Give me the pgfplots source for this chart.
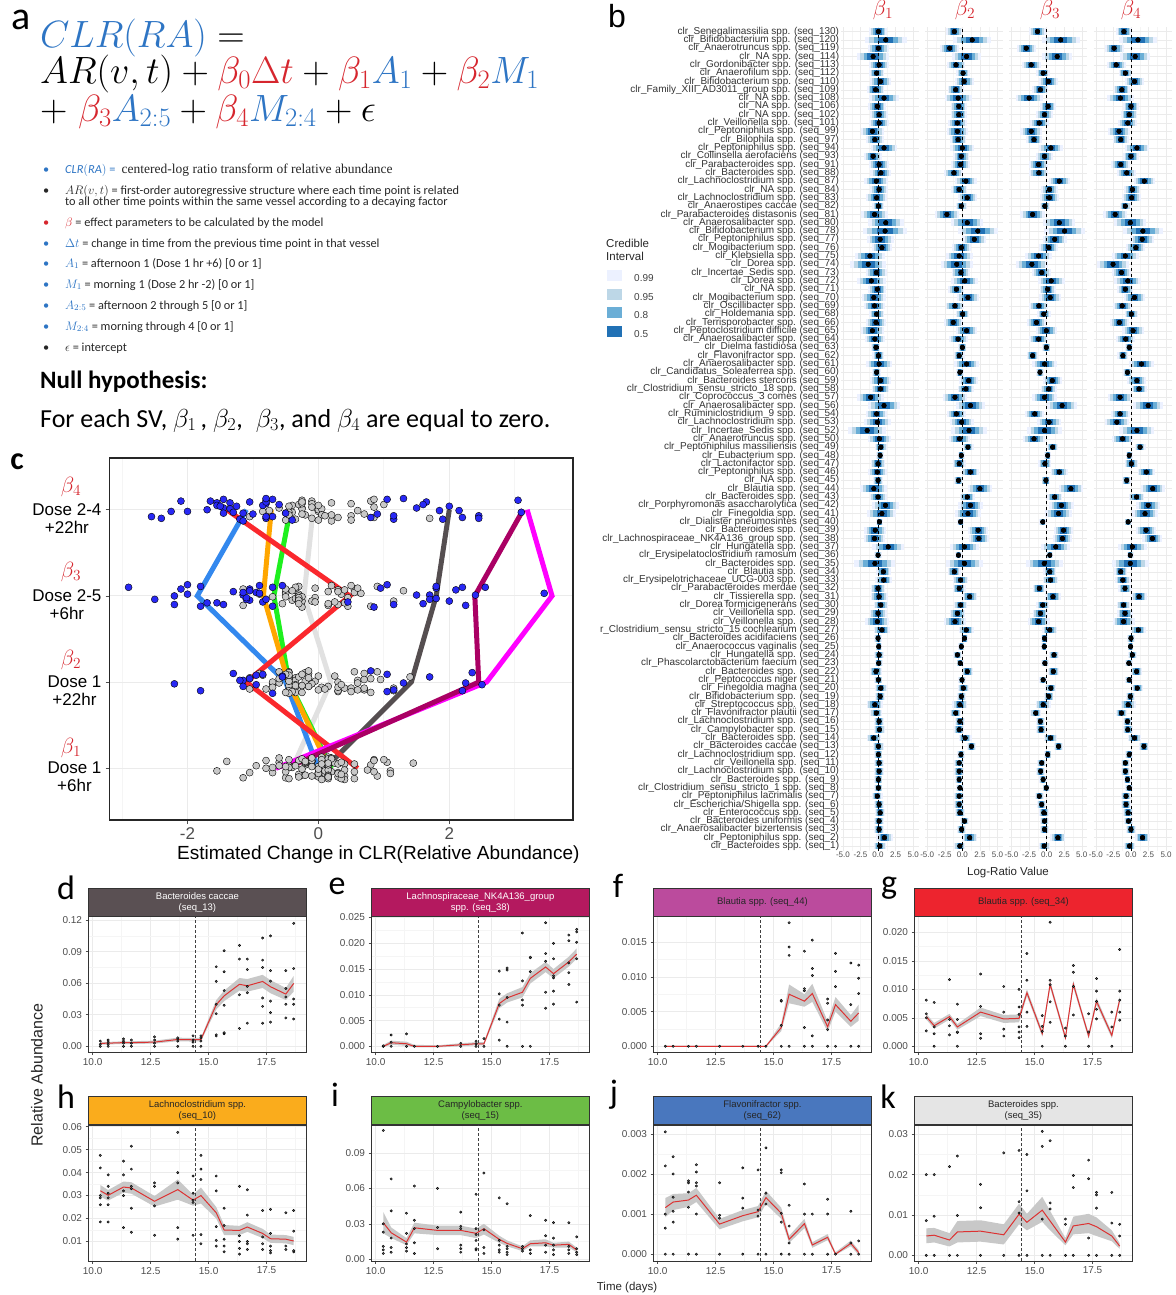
\RequirePackage{fix-cm}
\documentclass[border=0pt]{standalone}
\usepackage{fontspec}
\setmainfont{Carlito}
\newfontfamily\arial{Liberation Sans}
\newfontfamily\serif{Liberation Serif}
\usepackage{pgfplots}
\pgfplotsset{compat=1.18}
\usepackage{pgfplotstable}

\definecolor{eqblue}{RGB}{46,117,196}
\definecolor{eqred}{RGB}{214,38,46}
\definecolor{c99}{RGB}{236,241,255}
\definecolor{c95}{RGB}{189,215,231}
\definecolor{c80}{RGB}{107,174,214}
\definecolor{c50}{RGB}{33,113,181}
\definecolor{sd}{RGB}{90,80,83}
\definecolor{se}{RGB}{180,25,95}
\definecolor{sf}{RGB}{187,75,157}
\definecolor{sg}{RGB}{237,36,46}
\definecolor{sh}{RGB}{250,172,28}
\definecolor{si}{RGB}{108,189,69}
\definecolor{sj}{RGB}{73,119,190}
\definecolor{sk}{RGB}{229,229,229}
\definecolor{cred}{RGB}{250,40,45}
\definecolor{cblue}{RGB}{51,136,238}
\definecolor{corange}{RGB}{255,166,0}
\definecolor{cgreen}{RGB}{30,240,30}
\definecolor{cdark}{RGB}{85,78,80}
\definecolor{clight}{RGB}{225,225,225}
\definecolor{cmag}{RGB}{255,0,255}
\definecolor{cdmag}{RGB}{170,0,100}
\definecolor{ptblue}{RGB}{40,40,245}
\definecolor{ptgray}{RGB}{200,200,200}
\definecolor{tsred}{RGB}{220,50,50}
\definecolor{gridc}{RGB}{235,235,235}
\definecolor{gridm}{RGB}{245,245,245}
\definecolor{tickc}{RGB}{77,77,77}
\definecolor{ribc}{RGB}{200,200,200}
\definecolor{ptc}{RGB}{95,95,95}

% panel b estimates: y = row (1 = seq_1 at bottom), b1..b4 = posterior means,
% w = posterior sd (used for the grey/blue split in panel c), v = drawn interval scale, j = jitter used in panel c
\pgfplotstableread{
y b1 b2 b3 b4 w v j
1 0.25 -0.35 -0.35 -0.2 0.3 0.33 0.06
2 0.9 1.05 1.6 1.65 0.4 0.44 -0.09
3 0.15 -0.1 -0.3 0 0.25 0.28 0.02
4 0.15 0.3 -0.3 -0.35 0.25 0.28 0.11
5 0.3 -0.35 -0.4 -0.4 0.25 0.28 -0.05
6 0.15 -0.45 -0.7 -0.7 0.25 0.28 -0.12
7 -0.1 -0.45 -1.05 -0.7 0.25 0.28 0.08
8 0.05 -0.35 -0.05 -0.25 0.2 0.22 -0.02
9 0.05 -0.45 -0.5 -0.5 0.2 0.22 0.04
10 0.15 -0.45 -0.85 -0.8 0.25 0.28 -0.07
11 0.15 -0.45 -0.7 -0.8 0.25 0.28 0.10
12 0.05 -0.2 0.15 -0.25 0.2 0.22 -0.11
13 0.05 1.3 1.7 1.85 0.25 0.28 0.01
14 -0.6 0.4 0.55 0.5 0.35 0.39 0.07
15 0.2 -0.45 -0.8 -0.45 0.25 0.28 -0.04
16 0.15 -0.35 -0.9 -0.5 0.25 0.28 0.12
17 -0.25 -0.95 -1.55 -1.35 0.3 0.33 -0.08
18 -0.45 -0.35 -0.5 -0.4 0.4 0.44 0.03
19 0.3 -0.15 0.3 -0.1 0.25 0.28 -0.10
20 0.4 0.15 0.6 0.9 0.3 0.33 0.05
21 0.05 -0.05 -0.5 -0.25 0.2 0.22 -0.01
22 -0.3 0.7 0.95 0.8 0.3 0.33 0.09
23 0.1 -0.3 -0.25 -0.3 0.2 0.22 -0.06
24 0.15 -0.7 1.05 0.2 0.25 0.28 0.13
25 0.1 -0.15 -0.35 -0.05 0.15 0.17 -0.03
26 0 0.3 -0.3 0 0.2 0.22 0.00
27 0.55 0.55 0.45 1.05 0.4 0.44 -0.12
28 -0.1 -1.05 -1.15 -1.05 0.5 0.65 0.08
29 0 -0.7 -0.9 -0.85 0.35 0.46 0.02
30 0.4 -0.25 -0.55 -1.05 0.3 0.39 -0.09
31 0.15 1.05 0.9 1.15 0.35 0.46 0.11
32 0 -0.45 -1.05 -0.85 0.3 0.39 -0.05
33 0.8 -0.25 0.55 -1.15 0.35 0.46 0.04
34 0.75 -1.15 0.45 -1.45 0.3 0.39 -0.02
35 -0.45 0.3 -0.35 -0.1 0.85 1.1 0.10
36 0 -0.55 0.45 -0.1 0.15 0.2 -0.07
37 1.45 0.3 1.3 0.2 0.65 0.85 0.06
38 -0.5 2.35 2.25 3.05 0.45 0.59 -0.11
39 -0.4 2.25 2.4 2.15 0.45 0.59 0.01
40 0.2 -0.25 -0.55 -0.4 0.15 0.2 0.12
41 0.55 0.8 1.7 2.0 0.6 0.78 -0.04
42 1.05 1.15 2.1 2.45 0.55 0.72 0.07
43 0 0.7 1.15 0.8 0.35 0.46 -0.10
44 -0.6 2.5 3.45 3.1 0.55 0.72 0.03
45 0 -0.55 -0.1 -0.6 0.2 0.26 -0.06
46 -0.1 1.15 1.8 2.2 0.4 0.52 0.09
47 0 -0.45 -0.25 0.05 0.3 0.39 -0.01
48 0.3 -0.15 0.15 -0.25 0.15 0.2 0.05
49 0.4 0.8 0.85 1.3 0.25 0.33 -0.13
50 0.2 -0.4 -1.8 -1.2 0.4 0.64 0.11
51 -1.55 0.95 -0.3 0.85 0.65 1.04 -0.03
52 -0.1 -0.1 0.35 -2.0 0.45 0.72 0.02
53 -0.2 -0.85 -1.7 -1.55 0.35 0.56 -0.08
54 0.85 1.15 2.2 2.45 0.55 0.88 0.10
55 -1.05 -1.05 -0.3 -1.55 0.45 0.72 -0.05
56 0.35 0.5 0.3 1.15 0.3 0.48 0.07
57 0.35 0.9 0.8 0.85 0.35 0.56 -0.12
58 -0.2 -0.35 -0.95 -0.5 0.15 0.24 0.04
59 0.15 0.6 -0.3 1.5 0.45 0.72 -0.02
60 0.05 -0.45 -2.0 -1.15 0.2 0.32 0.13
61 -0.3 0 -0.05 -0.25 0.15 0.24 -0.07
62 -0.45 -0.6 -1.15 -0.75 0.35 0.56 0.01
63 -0.8 0.6 -0.05 0.3 0.4 0.64 0.09
64 -0.3 -1.3 -1.45 -1.65 0.35 0.56 -0.10
65 -0.2 0.05 -0.4 0.05 0.25 0.4 0.06
66 -0.5 -1.05 -1.1 -1.25 0.35 0.56 -0.04
67 -0.6 0.8 0.5 0.5 0.4 0.64 0.12
68 -0.1 -0.85 0.15 -0.8 0.3 0.48 -0.09
69 -0.95 0.35 0.65 -0.45 0.5 0.8 0.03
70 -0.25 -0.2 -0.7 -1.35 0.35 0.56 -0.01
71 -1.4 -0.8 -2.1 -2.55 0.6 0.96 0.08
72 -1.15 -0.45 -1.15 -0.8 0.5 0.8 -0.11
73 0.55 -0.15 0.3 0.7 0.35 0.56 0.05
74 0.3 1.7 1.15 1.6 0.45 0.72 -0.06
75 1.0 2.2 2.55 1.7 0.75 1.2 0.10
76 1.1 0.7 1.8 -0.1 0.6 0.96 -0.03
77 -0.5 -2.2 -2.0 -2.25 0.45 0.72 0.02
78 0.05 -0.15 -0.25 -0.8 0.2 0.32 -0.13
79 -0.2 0.7 0.4 0.1 0.35 0.56 0.07
80 0.15 -0.45 0.4 0.2 0.3 0.48 -0.08
81 -0.25 0.5 1.8 1.9 0.4 0.64 0.11
82 0.4 -1.2 -1.1 -0.6 0.35 0.56 -0.02
83 0.15 -0.25 -1.15 -1.45 0.35 0.56 0.04
84 -0.7 -0.15 -0.3 0 0.3 0.48 -0.05
85 0.85 0 0.6 0.85 0.45 0.72 0.09
86 -0.45 -0.6 -1.8 -1.45 0.3 0.48 -0.12
87 -0.8 -0.7 -2.2 -1.7 0.4 0.64 0.00
88 0.15 -0.7 -1.05 -0.45 0.35 0.56 0.06
89 0.15 -0.5 -0.3 -0.25 0.3 0.48 -0.09
90 -0.1 -0.5 0.2 0 0.3 0.48 0.12
91 0.85 -0.6 -2.5 -1.5 0.5 0.8 -0.04
92 -0.35 -0.95 -0.9 -1.3 0.3 0.48 0.03
93 0.35 0.25 0.25 0.5 0.35 0.56 -0.07
94 -0.2 0.1 -0.5 -0.8 0.25 0.4 0.08
95 0.15 -0.9 -2.2 -2.1 0.35 0.56 -0.10
96 -0.7 0.6 1.5 0.6 0.55 0.88 0.01
97 0.05 -1.8 -2.9 -2.4 0.35 0.56 0.10
98 1.1 1.4 2.0 1.0 0.7 1.12 -0.06
99 0.05 -1.15 -1.3 -1.0 0.3 0.48 0.05
}\bdata

% mean trajectories (panels d-k)
\pgfplotstableread{
t d e f g h i j k
10.33 0.0028 0 0 0.0052 0.0321 0.0310 0.00116 0.0048
10.67 0.0030 0.0007 0 0.0036 0.0301 0.0225 0.00130 0.0050
11.33 0.0035 0.0005 0 0.0052 0.0337 0.0146 0.00135 0.0038
11.67 0.0035 0 0 0.0034 0.0333 0.0267 0.00147 0.0058
12.67 0.0040 0 0 0.0060 0.0275 0.0245 0.00075 0.0060
13.67 0.0065 0.0003 0 0.0048 0.0326 0.0245 0.00096 0.0051
14.33 0.0062 0.0005 0 0.0049 0.0280 0.0220 0.00106 0.0102
14.67 0.0065 0.0005 0 0.0094 0.0300 0.0259 0.00141 0.0082
15.33 0.0396 0.0083 0.0027 0.0022 0.0225 0.0169 0.00102 0.0112
15.67 0.0480 0.0094 0.0075 0.0109 0.0150 0.0135 0.00037 0.0085
16.33 0.0590 0.0105 0.0065 0.0015 0.0148 0.0090 0.00076 0.0033
16.67 0.0576 0.0132 0.0076 0.0109 0.0163 0.0132 0.00023 0.0073
17.33 0.0617 0.0154 0.0028 0.0018 0.0135 0.0140 0.00042 0.0079
17.67 0.0567 0.0141 0.0060 0.0079 0.0112 0.0120 0.00000 0.0071
18.33 0.0497 0.0164 0.0036 0.0019 0.0110 0.0127 0.00027 0.0048
18.67 0.0598 0.0179 0.0048 0.0082 0.0102 0.0079 0.00004 0.0023
}\mtab

\pgfplotsset{
  bfac/.style={width=78bp, height=824.4bp, scale only axis, anchor=south west,
    xmin=-5.3, xmax=5.8, ymin=0.4, ymax=99.6,
    xtick={-5,-2.5,0,2.5,5}, minor xtick={-3.75,-1.25,1.25,3.75},
    ytick={1,...,99},
    xmajorgrids, xminorgrids, ymajorgrids,
    major grid style={draw=gridc, line width=0.5bp},
    minor grid style={draw=gridm, line width=0.4bp},
    axis line style={draw=none}, major tick length=0pt, minor tick length=0pt,
    /pgf/number format/assume math mode=true,
    xticklabel style={font=\arial\fontsize{8bp}{9bp}\selectfont, text=tickc, inner sep=1bp, /pgf/number format/fixed, /pgf/number format/fixed zerofill, /pgf/number format/precision=1},
    yticklabel style={font=\arial\fontsize{10bp}{10bp}\selectfont, text=black!80, inner xsep=1.5bp},
  },
  band/.style={only marks, mark=none, forget plot, error bars/.cd, x dir=both, x explicit, error mark=none,
    draw error bar/.code 2 args={\draw[line width=6.6bp, draw=#1] ##1 -- ##2;}},
  bdot/.style={only marks, mark=*, mark size=2.3bp, black, forget plot},
  ts/.style={width=218bp, height=136bp, scale only axis, anchor=south west,
    xmin=9.8, xmax=19.2, xtick={10,12.5,15,17.5}, minor xtick={11.25,13.75,16.25,18.75},
    minor y tick num=1, grid=both,
    major grid style={draw=gridc, line width=0.6bp}, minor grid style={draw=gridm, line width=0.4bp},
    axis line style={draw=black!80, line width=0.8bp},
    tick align=outside, major tick length=2.5bp, minor tick length=0pt, tick style={draw=tickc, line width=0.6bp},
    xtick pos=bottom, ytick pos=left, scaled y ticks=false,
    /pgf/number format/assume math mode=true,
    xticklabel style={font=\arial\fontsize{10bp}{11bp}\selectfont, text=tickc, /pgf/number format/fixed, /pgf/number format/fixed zerofill, /pgf/number format/precision=1},
    yticklabel style={font=\arial\fontsize{10bp}{11bp}\selectfont, text=tickc},
  },
  ylab/.style={yticklabel style={/pgf/number format/fixed, /pgf/number format/fixed zerofill, /pgf/number format/precision=#1}},
  pts/.style={only marks, mark=*, mark size=1.2bp, mark options={draw=none, fill=ptc}},
  rib/.style={fill=ribc, draw=none, mark=none, forget plot},
  redl/.style={draw=tsred, line width=1bp, mark=none},
  vdash/.style={draw=black!75, line width=1bp, dash pattern=on 3bp off 2bp},
  cg/.style={only marks, mark=*, mark size=3.5bp, mark options={draw=none, fill=ptgray}},
  cb/.style={only marks, mark=*, mark size=3.5bp, mark options={draw=none, fill=ptblue}},
}

\tikzset{
  strip/.style={draw=black!80, line width=0.8bp, minimum width=218bp, minimum height=28bp, inner sep=0pt, anchor=south west, align=center, font=\arial\fontsize{9.5bp}{11bp}\selectfont},
  plab/.style={font=\fontsize{34bp}{34bp}\selectfont, anchor=center, inner sep=0pt},
}

\begin{document}
\begin{tikzpicture}
\useasboundingbox (0,0) rectangle (1176bp,-1295bp);

% ---------------- panel a ----------------
\node[font=\fontsize{40bp}{40bp}\selectfont, inner sep=0pt] at (21bp,-20bp) {a};
\begin{scope}[every node/.style={anchor=base west, inner sep=0pt, font=\fontsize{38bp}{44bp}\selectfont}]
\node at (40bp,-47bp) {$\color{eqblue}CLR(RA)\color{black}=$};
\node at (40bp,-83bp) {$AR(v,t)+{\color{eqred}\beta_0\Delta t}+{\color{eqred}\beta_1}{\color{eqblue}A_1}+{\color{eqred}\beta_2}{\color{eqblue}M_1}$};
\node at (40bp,-121bp) {$+\;{\color{eqred}\beta_3}{\color{eqblue}A_{2{:}5}}+{\color{eqred}\beta_4}{\color{eqblue}M_{2{:}4}}+\epsilon$};
\end{scope}
\begin{scope}[every node/.style={anchor=base west, inner sep=0pt, font=\fontsize{12.3bp}{13bp}\selectfont, text=black!85}]
\node[text=eqblue] at (43bp,-173bp) {\textbullet};
\node at (65bp,-173bp) {{\color{eqblue}$\mathit{CLR}(\mathit{RA})$ =}\enspace{\serif\fontsize{13.5bp}{14bp}\selectfont centered-log ratio transform of relative abundance}};
\node at (43bp,-194bp) {\textbullet};
\node at (65bp,-194bp) {$AR(v,t)$ = first-order autoregressive structure where each time point is related};
\node at (65bp,-205bp) {to all other time points within the same vessel according to a decaying factor};
\node[text=eqred] at (43bp,-226bp) {\textbullet};
\node at (65bp,-226bp) {{\color{eqred}$\beta$} = effect parameters to be calculated by the model};
\node[text=eqblue] at (43bp,-247bp) {\textbullet};
\node at (65bp,-247bp) {{\color{eqblue}$\Delta t$} = change in time from the previous time point in that vessel};
\node[text=eqblue] at (43bp,-267bp) {\textbullet};
\node at (65bp,-267bp) {{\color{eqblue}$A_1$} = afternoon 1 (Dose 1 hr +6) [0 or 1]};
\node[text=eqblue] at (43bp,-288bp) {\textbullet};
\node at (65bp,-288bp) {{\color{eqblue}$M_1$} = morning 1 (Dose 2 hr -2) [0 or 1]};
\node[text=eqblue] at (43bp,-309bp) {\textbullet};
\node at (65bp,-309bp) {{\color{eqblue}$A_{2:5}$} = afternoon 2 through 5 [0 or 1]};
\node[text=eqblue] at (43bp,-330bp) {\textbullet};
\node at (65bp,-330bp) {{\color{eqblue}$M_{2:4}$} = morning through 4 [0 or 1]};
\node at (43bp,-351bp) {\textbullet};
\node at (65bp,-351bp) {$\epsilon$ = intercept};
\end{scope}
\node[anchor=base west, inner sep=0pt, font=\bfseries\fontsize{25bp}{28bp}\selectfont] at (40bp,-388bp) {Null hypothesis:};
\node[anchor=base west, inner sep=0pt, font=\fontsize{26bp}{28bp}\selectfont] at (40bp,-427bp) {For each SV, $\beta_1$\,, $\beta_2$,\; $\beta_3$, and $\beta_4$ are equal to zero.};

% ---------------- panel b ----------------
\node[font=\arial\fontsize{32bp}{32bp}\selectfont, inner sep=0pt] at (617bp,-16bp) {b};
\node[text=eqred, font=\fontsize{22bp}{22bp}\selectfont] at (883bp,-10bp) {$\beta_1$};
\node[text=eqred, font=\fontsize{22bp}{22bp}\selectfont] at (965bp,-10bp) {$\beta_2$};
\node[text=eqred, font=\fontsize{22bp}{22bp}\selectfont] at (1050bp,-10bp) {$\beta_3$};
\node[text=eqred, font=\fontsize{22bp}{22bp}\selectfont] at (1131bp,-10bp) {$\beta_4$};

\begin{axis}[bfac, at={(840.8bp,-851bp)},
  yticklabels={clr\_Bacteroides spp. (seq\_1),clr\_Peptoniphilus spp. (seq\_2),clr\_Anaerosalibacter bizertensis (seq\_3),clr\_Bacteroides uniformis (seq\_4),clr\_Enterococcus spp. (seq\_5),clr\_Escherichia/Shigella spp. (seq\_6),clr\_Peptoniphilus lacrimalis (seq\_7),clr\_Clostridium\_sensu\_stricto\_1 spp. (seq\_8),clr\_Bacteroides spp. (seq\_9),clr\_Lachnoclostridium spp. (seq\_10),clr\_Veillonella spp. (seq\_11),clr\_Lachnoclostridium spp. (seq\_12),clr\_Bacteroides caccae (seq\_13),clr\_Bacteroides spp. (seq\_14),clr\_Campylobacter spp. (seq\_15),clr\_Lachnoclostridium spp. (seq\_16),clr\_Flavonifractor plautii (seq\_17),clr\_Streptococcus spp. (seq\_18),clr\_Bifidobacterium spp. (seq\_19),clr\_Finegoldia magna (seq\_20),clr\_Peptococcus niger (seq\_21),clr\_Bacteroides spp. (seq\_22),clr\_Phascolarctobacterium faecium (seq\_23),clr\_Hungatella spp. (seq\_24),clr\_Anaerococcus vaginalis (seq\_25),clr\_Bacteroides acidifaciens (seq\_26),clr\_Clostridium\_sensu\_stricto\_15 cochlearium (seq\_27),clr\_Veillonella spp. (seq\_28),clr\_Veillonella spp. (seq\_29),clr\_Dorea formicigenerans (seq\_30),clr\_Tissierella spp. (seq\_31),clr\_Parabacteroides merdae (seq\_32),clr\_Erysipelotrichaceae\_UCG-003 spp. (seq\_33),clr\_Blautia spp. (seq\_34),clr\_Bacteroides spp. (seq\_35),clr\_Erysipelatoclostridium ramosum (seq\_36),clr\_Hungatella spp. (seq\_37),clr\_Lachnospiraceae\_NK4A136\_group spp. (seq\_38),clr\_Bacteroides spp. (seq\_39),clr\_Dialister pneumosintes (seq\_40),clr\_Finegoldia spp. (seq\_41),clr\_Porphyromonas asaccharolytica (seq\_42),clr\_Bacteroides spp. (seq\_43),clr\_Blautia spp. (seq\_44),clr\_NA spp. (seq\_45),clr\_Peptoniphilus spp. (seq\_46),clr\_Lactonifactor spp. (seq\_47),clr\_Eubacterium spp. (seq\_48),clr\_Peptoniphilus massiliensis (seq\_49),clr\_Anaerotruncus spp. (seq\_50),clr\_Incertae\_Sedis spp. (seq\_52),clr\_Lachnoclostridium spp. (seq\_53),clr\_Ruminiclostridium\_9 spp. (seq\_54),clr\_Anaerosalibacter spp. (seq\_56),clr\_Coprococcus\_3 comes (seq\_57),clr\_Clostridium\_sensu\_stricto\_18 spp. (seq\_58),clr\_Bacteroides stercoris (seq\_59),clr\_Candidatus\_Soleaferrea spp. (seq\_60),clr\_Anaerosalibacter spp. (seq\_61),clr\_Flavonifractor spp. (seq\_62),clr\_Dielma fastidiosa (seq\_63),clr\_Anaerosalibacter spp. (seq\_64),clr\_Peptoclostridium difficile (seq\_65),clr\_Terrisporobacter spp. (seq\_66),clr\_Holdemania spp. (seq\_68),clr\_Oscillibacter spp. (seq\_69),clr\_Mogibacterium spp. (seq\_70),clr\_NA spp. (seq\_71),clr\_Dorea spp. (seq\_72),clr\_Incertae\_Sedis spp. (seq\_73),clr\_Dorea spp. (seq\_74),clr\_Klebsiella spp. (seq\_75),clr\_Mogibacterium spp. (seq\_76),clr\_Peptoniphilus spp. (seq\_77),clr\_Bifidobacterium spp. (seq\_78),clr\_Anaerosalibacter spp. (seq\_80),clr\_Parabacteroides distasonis (seq\_81),clr\_Anaerostipes caccae (seq\_82),clr\_Lachnoclostridium spp. (seq\_83),clr\_NA spp. (seq\_84),clr\_Lachnoclostridium spp. (seq\_87),clr\_Bacteroides spp. (seq\_88),clr\_Parabacteroides spp. (seq\_91),clr\_Collinsella aerofaciens (seq\_93),clr\_Peptoniphilus spp. (seq\_94),clr\_Bilophila spp. (seq\_97),clr\_Peptoniphilus spp. (seq\_99),clr\_Veillonella spp. (seq\_101),clr\_NA spp. (seq\_102),clr\_NA spp. (seq\_106),clr\_NA spp. (seq\_108),clr\_Family\_XIII\_AD3011\_group spp. (seq\_109),clr\_Bifidobacterium spp. (seq\_110),clr\_Anaerofilum spp. (seq\_112),clr\_Gordonibacter spp. (seq\_113),clr\_NA spp. (seq\_114),clr\_Anaerotruncus spp. (seq\_119),clr\_Bifidobacterium spp. (seq\_120),clr\_Senegalimassilia spp. (seq\_130)}]
  \addplot[band=c99] table[x=b1,y=y,x error expr=2.64*\thisrow{v}]{\bdata};
  \addplot[band=c95] table[x=b1,y=y,x error expr=2.09*\thisrow{v}]{\bdata};
  \addplot[band=c80] table[x=b1,y=y,x error expr=1.54*\thisrow{v}]{\bdata};
  \addplot[band=c50] table[x=b1,y=y,x error expr=0.94*\thisrow{v}]{\bdata};
  \addplot[black, dashed, line width=0.7bp, forget plot] coordinates {(0,0.4) (0,99.6)};
  \addplot[bdot] table[x=b1,y=y]{\bdata};
\end{axis}
\begin{axis}[bfac, at={(925.1bp,-851bp)}, yticklabels={}]
  \addplot[band=c99] table[x=b2,y=y,x error expr=2.4*\thisrow{v}]{\bdata};
  \addplot[band=c95] table[x=b2,y=y,x error expr=1.9*\thisrow{v}]{\bdata};
  \addplot[band=c80] table[x=b2,y=y,x error expr=1.4*\thisrow{v}]{\bdata};
  \addplot[band=c50] table[x=b2,y=y,x error expr=0.85*\thisrow{v}]{\bdata};
  \addplot[black, dashed, line width=0.7bp, forget plot] coordinates {(0,0.4) (0,99.6)};
  \addplot[bdot] table[x=b2,y=y]{\bdata};
\end{axis}
\begin{axis}[bfac, at={(1009.4bp,-851bp)}, yticklabels={}]
  \addplot[band=c99] table[x=b3,y=y,x error expr=2.4*\thisrow{v}]{\bdata};
  \addplot[band=c95] table[x=b3,y=y,x error expr=1.9*\thisrow{v}]{\bdata};
  \addplot[band=c80] table[x=b3,y=y,x error expr=1.4*\thisrow{v}]{\bdata};
  \addplot[band=c50] table[x=b3,y=y,x error expr=0.85*\thisrow{v}]{\bdata};
  \addplot[black, dashed, line width=0.7bp, forget plot] coordinates {(0,0.4) (0,99.6)};
  \addplot[bdot] table[x=b3,y=y]{\bdata};
\end{axis}
\begin{axis}[bfac, at={(1093.7bp,-851bp)}, yticklabels={}]
  \addplot[band=c99] table[x=b4,y=y,x error expr=2.4*\thisrow{v}]{\bdata};
  \addplot[band=c95] table[x=b4,y=y,x error expr=1.9*\thisrow{v}]{\bdata};
  \addplot[band=c80] table[x=b4,y=y,x error expr=1.4*\thisrow{v}]{\bdata};
  \addplot[band=c50] table[x=b4,y=y,x error expr=0.85*\thisrow{v}]{\bdata};
  \addplot[black, dashed, line width=0.7bp, forget plot] coordinates {(0,0.4) (0,99.6)};
  \addplot[bdot] table[x=b4,y=y]{\bdata};
\end{axis}
\node[font=\arial\fontsize{11.5bp}{12bp}\selectfont, text=black!85] at (1008bp,-873bp) {Log-Ratio Value};
% legend of panel b
\begin{scope}[every node/.style={anchor=west, inner sep=0pt}]
\node[font=\arial\fontsize{11.5bp}{13bp}\selectfont, text=black!85, align=left, anchor=north west] at (606bp,-239bp) {Credible\\Interval};
\fill[c99] (607bp,-270bp) rectangle (622bp,-281bp);
\fill[c95] (607bp,-289bp) rectangle (622bp,-300bp);
\fill[c80] (607bp,-307bp) rectangle (622bp,-318bp);
\fill[c50] (607bp,-326bp) rectangle (622bp,-337bp);
\node[font=\arial\fontsize{10bp}{11bp}\selectfont, text=black!75] at (634bp,-278bp) {0.99};
\node[font=\arial\fontsize{10bp}{11bp}\selectfont, text=black!75] at (634bp,-297bp) {0.95};
\node[font=\arial\fontsize{10bp}{11bp}\selectfont, text=black!75] at (634bp,-315bp) {0.8};
\node[font=\arial\fontsize{10bp}{11bp}\selectfont, text=black!75] at (634bp,-334bp) {0.5};
\end{scope}

% ---------------- panel c ----------------
\fill[white] (0bp,-440bp) rectangle (600bp,-868bp);
\node[font=\bfseries\fontsize{32bp}{32bp}\selectfont, inner sep=0pt] at (17bp,-462bp) {c};
\begin{axis}[at={(109.6bp,-820bp)}, anchor=south west, width=463.4bp, height=362bp, scale only axis,
  xmin=-3.19, xmax=3.89, ymin=0.4, ymax=4.6,
  xtick={-2,0,2}, minor xtick={-3,-1,1,3}, ytick={1,2,3,4},
  xmajorgrids, xminorgrids, ymajorgrids,
  major grid style={draw=gridc, line width=1bp}, minor grid style={draw=gridm, line width=0.7bp},
  axis line style={draw=black!85, line width=1.2bp},
  tick align=outside, major tick length=4bp, minor tick length=0pt, tick style={draw=tickc, line width=0.8bp},
  xtick pos=bottom, ytick pos=left,
  /pgf/number format/assume math mode=true,
  xticklabel style={font=\arial\fontsize{17bp}{18bp}\selectfont, text=tickc},
  yticklabels={{Dose 1\\+6hr},{Dose 1\\+22hr},{Dose 2-5\\+6hr},{Dose 2-4\\+22hr}},
  yticklabel style={font=\arial\fontsize{17bp}{18bp}\selectfont, align=center, anchor=north east, inner sep=0pt, yshift=6.5bp, xshift=-4bp},
  xlabel={Estimated Change in CLR(Relative Abundance)},
  xlabel style={font=\arial\fontsize{19bp}{20bp}\selectfont, xshift=37bp, yshift=1bp},
]
  % points: one per SV and effect, grey = 0.99 interval covers zero, blue = it does not
  \addplot[cg] table[x=b1, y expr={abs(\thisrow{b1})>2.96*\thisrow{w} ? nan : 1+\thisrow{j}}]{\bdata};
  \addplot[cg] table[x=b2, y expr={abs(\thisrow{b2})>2.58*\thisrow{w} ? nan : 2-\thisrow{j}}]{\bdata};
  \addplot[cg] table[x=b3, y expr={abs(\thisrow{b3})>2.58*\thisrow{w} ? nan : 3+\thisrow{j}}]{\bdata};
  \addplot[cg] table[x=b4, y expr={abs(\thisrow{b4})>2.58*\thisrow{w} ? nan : 4-\thisrow{j}}]{\bdata};
  \addplot[cb] table[x=b2, y expr={abs(\thisrow{b2})>2.58*\thisrow{w} ? 2-\thisrow{j} : nan}]{\bdata};
  \addplot[cb] table[x=b3, y expr={abs(\thisrow{b3})>2.58*\thisrow{w} ? 3+\thisrow{j} : nan}]{\bdata};
  \addplot[cb] table[x=b4, y expr={abs(\thisrow{b4})>2.58*\thisrow{w} ? 4-\thisrow{j} : nan}]{\bdata};
  % highlighted SVs
  \addplot[clight, line width=5bp] coordinates {(-0.4,1) (0.19,2) (-0.22,3) (-0.08,4)};
  \addplot[cdark, line width=5bp] coordinates {(0.1,1) (1.42,2) (1.8,3) (2.0,4)};
  \addplot[cblue, line width=5bp] coordinates {(0.0,1) (-0.5,2) (-1.85,3) (-1.1,4)};
  \addplot[cgreen, line width=5bp] coordinates {(0.2,1) (-0.45,2) (-0.68,3) (-0.43,4)};
  \addplot[corange, line width=5bp] coordinates {(0.17,1) (-0.46,2) (-0.84,3) (-0.72,4)};
  \addplot[cred, line width=5bp] coordinates {(0.6,1) (-1.1,2) (0.48,3) (-1.4,4)};
  \addplot[cmag, line width=5bp] coordinates {(-0.65,1) (2.57,2) (3.57,3) (3.19,4)};
  \addplot[cdmag, line width=5bp] coordinates {(-0.49,1) (2.45,2) (2.39,3) (3.13,4)};
\end{axis}
\begin{scope}[every node/.style={text=eqred, font=\fontsize{22bp}{22bp}\selectfont, inner sep=0pt}]
\node at (71bp,-487bp) {$\beta_4$};
\node at (71bp,-572bp) {$\beta_3$};
\node at (71bp,-660bp) {$\beta_2$};
\node at (71bp,-748bp) {$\beta_1$};
\end{scope}

% ---------------- panels d-k ----------------
\node[plab] at (66bp,-888bp) {d};
\node[plab] at (337bp,-886bp) {e};
\node[plab] at (618bp,-886bp) {f};
\node[plab] at (889bp,-888bp) {g};
\node[plab] at (66bp,-1097bp) {h};
\node[plab] at (335bp,-1095bp) {i};
\node[plab] at (614bp,-1095bp) {j};
\node[plab] at (888bp,-1097bp) {k};

\node[strip, fill=sd, text=white] at (88bp,-916.5bp) {Bacteroides caccae\\(seq\_13)};
\node[strip, fill=se, text=white] at (371bp,-916.5bp) {Lachnospiraceae\_NK4A136\_group\\spp. (seq\_38)};
\node[strip, fill=sf, text=black!85] at (653bp,-916.5bp) {Blautia spp. (seq\_44)};
\node[strip, fill=sg, text=black!85] at (914bp,-916.5bp) {Blautia spp. (seq\_34)};
\node[strip, fill=sh, text=black!85] at (88bp,-1125bp) {Lachnoclostridium spp.\\(seq\_10)};
\node[strip, fill=si, text=black!85] at (371bp,-1125bp) {Campylobacter spp.\\(seq\_15)};
\node[strip, fill=sj, text=black!85] at (653bp,-1125bp) {Flavonifractor spp.\\(seq\_62)};
\node[strip, fill=sk, text=black!85] at (914bp,-1125bp) {Bacteroides spp.\\(seq\_35)};

% d
\begin{axis}[ts, at={(88bp,-1052.5bp)}, ymin=-0.0059, ymax=0.1235, ytick={0,0.03,0.06,0.09,0.12}, ylab=2]
  \addplot[rib] coordinates {(10.33,0.0040)(10.67,0.0042)(11.33,0.0048)(11.67,0.0048)(12.67,0.0054)(13.67,0.0082)(14.33,0.0080)(14.67,0.0082)(15.33,0.0440)(15.67,0.0530)(16.33,0.0650)(16.67,0.0640)(17.33,0.0680)(17.67,0.0630)(18.33,0.0555)(18.67,0.0670)(18.67,0.0520)(18.33,0.0440)(17.67,0.0505)(17.33,0.0555)(16.67,0.0520)(16.33,0.0530)(15.67,0.0430)(15.33,0.0350)(14.67,0.0048)(14.33,0.0045)(13.67,0.0048)(12.67,0.0026)(11.67,0.0022)(11.33,0.0022)(10.67,0.0018)(10.33,0.0015)};
  \addplot[pts] coordinates {(10.33,0)(10.33,0.002)(10.33,0.005)(10.67,0)(10.67,0.002)(10.67,0.004)(10.67,0.006)(11.33,0)(11.33,0.003)(11.33,0.005)(11.33,0.007)(11.67,0)(11.67,0.003)(11.67,0.006)(12.67,0)(12.67,0.003)(12.67,0.006)(12.67,0.009)(13.67,0)(13.67,0.005)(13.67,0.007)(13.67,0.008)(14.33,0)(14.33,0.004)(14.33,0.006)(14.33,0.010)(14.67,0)(14.67,0.005)(14.67,0.008)(14.67,0.010)(15.33,0.0098)(15.33,0.011)(15.33,0.031)(15.33,0.040)(15.33,0.0617)(15.33,0.0757)(15.67,0.012)(15.67,0.013)(15.67,0.039)(15.67,0.053)(15.67,0.071)(15.67,0.091)(16.33,0.017)(16.33,0.049)(16.33,0.083)(16.33,0.096)(16.67,0.022)(16.67,0.051)(16.67,0.057)(16.67,0.073)(16.67,0.083)(17.33,0.022)(17.33,0.038)(17.33,0.046)(17.33,0.075)(17.33,0.082)(17.33,0.103)(17.67,0.023)(17.67,0.032)(17.67,0.043)(17.67,0.062)(17.67,0.072)(17.67,0.105)(18.33,0.027)(18.33,0.040)(18.33,0.047)(18.33,0.055)(18.33,0.072)(18.67,0.026)(18.67,0.040)(18.67,0.045)(18.67,0.074)(18.67,0.117)};
  \addplot[vdash] coordinates {(14.42,-0.0059) (14.42,0.1235)};
  \addplot[redl] table[x=t,y=d]{\mtab};
\end{axis}
% e
\begin{axis}[ts, at={(371bp,-1052.5bp)}, ymin=-0.0012, ymax=0.0252, ytick={0,0.005,0.01,0.015,0.02,0.025}, ylab=3]
  \addplot[rib] coordinates {(10.33,0.0003)(10.67,0.0011)(11.33,0.0009)(11.67,0.0003)(12.67,0.0002)(13.67,0.0006)(14.33,0.0008)(14.67,0.0008)(15.33,0.0092)(15.67,0.0103)(16.33,0.0115)(16.67,0.0142)(17.33,0.0164)(17.67,0.0150)(18.33,0.0174)(18.67,0.0190)(18.67,0.0170)(18.33,0.0155)(17.67,0.0132)(17.33,0.0144)(16.67,0.0122)(16.33,0.0095)(15.67,0.0085)(15.33,0.0074)(14.67,0.0002)(14.33,0.0002)(13.67,0.0000)(12.67,-0.0002)(11.67,-0.0002)(11.33,0.0001)(10.67,0.0003)(10.33,-0.0002)};
  \addplot[pts] coordinates {(10.33,0)(10.33,0.0001)(10.67,0)(10.67,0.0008)(10.67,0.0022)(11.33,0)(11.33,0.0024)(11.67,0)(12.67,0)(13.67,0)(13.67,0.0006)(14.33,0)(14.33,0.0005)(14.33,0.001)(14.67,0)(14.67,0.0015)(15.33,0.0012)(15.33,0.0053)(15.33,0.008)(15.33,0.0102)(15.33,0.0146)(15.67,0)(15.67,0.0047)(15.67,0.0095)(15.67,0.0148)(15.67,0.0152)(16.33,0)(16.33,0.008)(16.33,0.009)(16.33,0.0127)(16.33,0.022)(16.67,0)(16.67,0.0145)(16.67,0.0172)(16.67,0.0173)(17.33,0.0074)(17.33,0.0105)(17.33,0.0165)(17.33,0.018)(17.33,0.024)(17.67,0.0082)(17.67,0.0107)(17.67,0.0133)(17.67,0.0137)(17.67,0.017)(17.67,0.020)(18.33,0.012)(18.33,0.0143)(18.33,0.0162)(18.33,0.0205)(18.33,0.0216)(18.67,0.0086)(18.67,0.017)(18.67,0.0202)(18.67,0.0222)(18.67,0.0227)};
  \addplot[vdash] coordinates {(14.42,-0.0012) (14.42,0.0252)};
  \addplot[redl] table[x=t,y=e]{\mtab};
\end{axis}
% f
\begin{axis}[ts, at={(653bp,-1052.5bp)}, ymin=-0.0009, ymax=0.0187, ytick={0,0.005,0.01,0.015}, ylab=3]
  \addplot[rib] coordinates {(10.33,0.0001)(14.67,0.0001)(15.33,0.0033)(15.67,0.0089)(16.33,0.0075)(16.67,0.0090)(17.33,0.0036)(17.67,0.0071)(18.33,0.0045)(18.67,0.0060)(18.67,0.0037)(18.33,0.0028)(17.67,0.0050)(17.33,0.0021)(16.67,0.0064)(16.33,0.0057)(15.67,0.0062)(15.33,0.0022)(14.67,-0.0001)(10.33,-0.0001)};
  \addplot[pts] coordinates {(10.33,0)(10.67,0)(11.33,0)(11.67,0)(12.67,0)(13.67,0)(14.33,0)(14.67,0)(15.33,0)(15.67,0)(16.33,0)(16.67,0)(17.33,0)(17.67,0)(18.33,0)(18.67,0)(15.33,0.003)(15.33,0.0065)(15.33,0.0066)(15.67,0.0131)(15.67,0.0143)(15.67,0.0178)(16.33,0.0027)(16.33,0.0080)(16.33,0.0083)(16.33,0.0137)(16.67,0.0015)(16.67,0.0102)(16.67,0.0112)(16.67,0.0153)(17.33,0.0024)(17.33,0.0038)(17.33,0.0062)(17.33,0.0068)(17.67,0.0086)(17.67,0.0108)(17.67,0.0134)(18.33,0.006)(18.33,0.012)(18.67,0.0076)(18.67,0.0098)(18.67,0.0117)};
  \addplot[vdash] coordinates {(14.42,-0.0009) (14.42,0.0187)};
  \addplot[redl] table[x=t,y=f]{\mtab};
\end{axis}
% g
\begin{axis}[ts, at={(914bp,-1052.5bp)}, ymin=-0.0011, ymax=0.0228, ytick={0,0.005,0.01,0.015,0.02}, ylab=3]
  \addplot[rib] coordinates {(10.33,0.0057)(10.67,0.0041)(11.33,0.0057)(11.67,0.0039)(12.67,0.0068)(13.67,0.0055)(14.33,0.0056)(14.67,0.0100)(15.33,0.0028)(15.67,0.0115)(16.33,0.0020)(16.67,0.0115)(17.33,0.0023)(17.67,0.0085)(18.33,0.0024)(18.67,0.0088)(18.67,0.0076)(18.33,0.0014)(17.67,0.0073)(17.33,0.0013)(16.67,0.0103)(16.33,0.0010)(15.67,0.0103)(15.33,0.0017)(14.67,0.0088)(14.33,0.0042)(13.67,0.0041)(12.67,0.0053)(11.67,0.0029)(11.33,0.0047)(10.67,0.0031)(10.33,0.0047)};
  \addplot[pts] coordinates {(10.33,0.0027)(10.33,0.005)(10.33,0.0057)(10.33,0.0081)(10.67,0)(10.67,0.0022)(10.67,0.0034)(10.67,0.0077)(11.33,0.002)(11.33,0.0036)(11.33,0.0047)(11.33,0.0117)(11.67,0)(11.67,0.0024)(11.67,0.0025)(11.67,0.0047)(11.67,0.0074)(12.67,0.0014)(12.67,0.0022)(12.67,0.007)(12.67,0.0127)(13.67,0.0018)(13.67,0.003)(13.67,0.006)(13.67,0.0105)(14.33,0.0015)(14.33,0.0025)(14.33,0.0034)(14.33,0.0056)(14.33,0.0069)(14.33,0.010)(14.67,0.0035)(14.67,0.006)(14.67,0.0116)(14.67,0.0163)(15.33,0)(15.33,0.0026)(15.33,0.0035)(15.33,0.0054)(15.67,0.0042)(15.67,0.0078)(15.67,0.0108)(15.67,0.0116)(15.67,0.0218)(16.33,0)(16.33,0.0018)(16.33,0.0032)(16.67,0.0055)(16.67,0.0105)(16.67,0.013)(16.67,0.0142)(17.33,0)(17.33,0.0025)(17.33,0.0057)(17.67,0.0048)(17.67,0.0065)(17.67,0.0079)(17.67,0.0097)(17.67,0.0119)(18.33,0)(18.33,0.0034)(18.33,0.006)(18.67,0.0046)(18.67,0.006)(18.67,0.0081)(18.67,0.0097)(18.67,0.017)};
  \addplot[vdash] coordinates {(14.42,-0.0011) (14.42,0.0228)};
  \addplot[redl] table[x=t,y=g]{\mtab};
\end{axis}
% h
\begin{axis}[ts, at={(88bp,-1261bp)}, ymin=0.0015, ymax=0.0607, ytick={0.01,0.02,0.03,0.04,0.05,0.06}, ylab=2]
  \addplot[rib] coordinates {(10.33,0.0346)(10.67,0.0324)(11.33,0.0361)(11.67,0.0358)(12.67,0.0298)(13.67,0.0370)(14.33,0.0304)(14.67,0.0335)(15.33,0.0250)(15.67,0.0172)(16.33,0.0168)(16.67,0.0184)(17.33,0.0155)(17.67,0.0130)(18.33,0.0128)(18.67,0.0120)(18.67,0.0084)(18.33,0.0092)(17.67,0.0094)(17.33,0.0115)(16.67,0.0142)(16.33,0.0128)(15.67,0.0128)(15.33,0.0200)(14.67,0.0265)(14.33,0.0256)(13.67,0.0282)(12.67,0.0252)(11.67,0.0308)(11.33,0.0313)(10.67,0.0278)(10.33,0.0296)};
  \addplot[pts] coordinates {(10.33,0.0185)(10.33,0.026)(10.33,0.029)(10.33,0.030)(10.33,0.042)(10.33,0.0475)(10.67,0.0185)(10.67,0.026)(10.67,0.029)(10.67,0.031)(10.67,0.034)(10.67,0.039)(11.33,0.016)(11.33,0.030)(11.33,0.032)(11.33,0.039)(11.33,0.045)(11.67,0.014)(11.67,0.0245)(11.67,0.033)(11.67,0.034)(11.67,0.0415)(11.67,0.0515)(12.67,0.0127)(12.67,0.0255)(12.67,0.034)(12.67,0.0355)(13.67,0.011)(13.67,0.016)(13.67,0.0355)(13.67,0.040)(13.67,0.0575)(14.33,0.0127)(14.33,0.027)(14.33,0.028)(14.33,0.031)(14.33,0.0385)(14.67,0.009)(14.67,0.013)(14.67,0.037)(14.67,0.0415)(14.67,0.0475)(15.33,0.008)(15.33,0.0105)(15.33,0.0165)(15.33,0.032)(15.33,0.0385)(15.67,0.0055)(15.67,0.008)(15.67,0.011)(15.67,0.017)(15.67,0.0245)(16.33,0.0045)(16.33,0.007)(16.33,0.010)(16.33,0.0125)(16.33,0.034)(16.67,0.0065)(16.67,0.009)(16.67,0.010)(16.67,0.0215)(16.67,0.0325)(17.33,0.0065)(17.33,0.009)(17.33,0.012)(17.33,0.0235)(17.67,0.005)(17.67,0.006)(17.67,0.008)(17.67,0.0135)(17.67,0.024)(18.33,0.0065)(18.33,0.008)(18.33,0.0225)(18.67,0.0055)(18.67,0.006)(18.67,0.0145)(18.67,0.0235)};
  \addplot[vdash] coordinates {(14.42,0.0015) (14.42,0.0607)};
  \addplot[redl] table[x=t,y=h]{\mtab};
\end{axis}
% i
\begin{axis}[ts, at={(371bp,-1261bp)}, ymin=-0.0014, ymax=0.1136, ytick={0,0.03,0.06,0.09}, ylab=2]
  \addplot[rib] coordinates {(10.33,0.0400)(10.67,0.0270)(11.33,0.0180)(11.67,0.0310)(12.67,0.0285)(13.67,0.0285)(14.33,0.0260)(14.67,0.0300)(15.33,0.0200)(15.67,0.0160)(16.33,0.0110)(16.67,0.0160)(17.33,0.0170)(17.67,0.0140)(18.33,0.0150)(18.67,0.0100)(18.67,0.0060)(18.33,0.0100)(17.67,0.0100)(17.33,0.0110)(16.67,0.0110)(16.33,0.0070)(15.67,0.0110)(15.33,0.0140)(14.67,0.0210)(14.33,0.0180)(13.67,0.0205)(12.67,0.0205)(11.67,0.0220)(11.33,0.0120)(10.67,0.0180)(10.33,0.0220)};
  \addplot[pts] coordinates {(10.33,0.005)(10.33,0.008)(10.33,0.011)(10.33,0.023)(10.33,0.030)(10.33,0.109)(10.67,0.006)(10.67,0.010)(10.67,0.018)(10.67,0.041)(10.67,0.068)(11.33,0.007)(11.33,0.010)(11.33,0.013)(11.33,0.022)(11.33,0.039)(11.67,0.005)(11.67,0.014)(11.67,0.026)(11.67,0.033)(11.67,0.062)(12.67,0.009)(12.67,0.027)(12.67,0.060)(13.67,0.006)(13.67,0.009)(13.67,0.012)(13.67,0.026)(13.67,0.028)(13.67,0.040)(14.33,0.008)(14.33,0.009)(14.33,0.016)(14.33,0.021)(14.33,0.026)(14.33,0.055)(14.67,0.005)(14.67,0.010)(14.67,0.025)(14.67,0.073)(15.33,0.006)(15.33,0.008)(15.33,0.012)(15.33,0.016)(15.33,0.052)(15.67,0.004)(15.67,0.006)(15.67,0.009)(15.67,0.011)(15.67,0.047)(16.33,0.007)(16.33,0.009)(16.33,0.011)(16.67,0.005)(16.67,0.008)(16.67,0.037)(17.33,0.006)(17.33,0.012)(17.33,0.020)(17.33,0.033)(17.67,0.004)(17.67,0.008)(17.67,0.012)(17.67,0.018)(17.67,0.031)(18.33,0.005)(18.33,0.008)(18.33,0.011)(18.33,0.031)(18.67,0.004)(18.67,0.006)(18.67,0.009)(18.67,0.019)};
  \addplot[vdash] coordinates {(14.42,-0.0014) (14.42,0.1136)};
  \addplot[redl] table[x=t,y=i]{\mtab};
\end{axis}
% j
\begin{axis}[ts, at={(653bp,-1261bp)}, ymin=-0.00017, ymax=0.00322, ytick={0,0.001,0.002,0.003}, ylab=3]
  \addplot[rib] coordinates {(10.33,0.00140)(10.67,0.00150)(11.33,0.00152)(11.67,0.00165)(12.67,0.00088)(13.67,0.00110)(14.33,0.00120)(14.67,0.00158)(15.33,0.00116)(15.67,0.00046)(16.33,0.00088)(16.67,0.00030)(17.33,0.00050)(17.67,0.00005)(18.33,0.00034)(18.67,0.00010)(18.67,-0.00002)(18.33,0.00020)(17.67,-0.00002)(17.33,0.00035)(16.67,0.00016)(16.33,0.00065)(15.67,0.00028)(15.33,0.00088)(14.67,0.00125)(14.33,0.00092)(13.67,0.00082)(12.67,0.00062)(11.67,0.00130)(11.33,0.00118)(10.67,0.00110)(10.33,0.00092)};
  \addplot[pts] coordinates {(10.33,0)(10.67,0)(11.33,0)(11.67,0)(12.67,0)(13.67,0)(14.33,0)(14.67,0)(15.33,0)(15.67,0)(16.33,0)(16.67,0)(17.33,0)(17.67,0)(18.33,0)(18.67,0)(10.33,0.00065)(10.33,0.001)(10.33,0.0022)(10.33,0.00305)(10.67,0.0008)(10.67,0.00107)(10.67,0.00142)(10.67,0.002)(10.67,0.00243)(11.33,0.00117)(11.33,0.00155)(11.33,0.00178)(11.33,0.00183)(11.67,0.001)(11.67,0.0017)(11.67,0.00178)(11.67,0.00205)(11.67,0.00223)(12.67,0.0009)(12.67,0.00097)(12.67,0.00178)(13.67,0.00115)(13.67,0.0014)(13.67,0.00215)(14.33,0.00095)(14.33,0.0011)(14.33,0.0021)(14.67,0.00125)(14.67,0.00152)(14.67,0.00265)(15.33,0.0008)(15.33,0.00102)(15.33,0.00203)(15.33,0.0021)(15.67,0.00028)(15.67,0.0007)(15.67,0.00122)(16.33,0.001)(16.33,0.00175)(16.67,0.001)(17.33,0.001)(17.33,0.00137)(18.33,0.00028)(18.33,0.00107)(18.67,0.00033)};
  \addplot[vdash] coordinates {(14.42,-0.00017) (14.42,0.00322)};
  \addplot[redl] table[x=t,y=j]{\mtab};
\end{axis}
% k
\begin{axis}[ts, at={(914bp,-1261bp)}, ymin=-0.0014, ymax=0.0323, ytick={0,0.01,0.02,0.03}, ylab=2]
  \addplot[rib] coordinates {(10.33,0.0067)(10.67,0.0068)(11.33,0.0055)(11.67,0.0085)(12.67,0.0087)(13.67,0.0077)(14.33,0.0128)(14.67,0.0103)(15.33,0.0145)(15.67,0.0110)(16.33,0.0043)(16.67,0.0096)(17.33,0.0103)(17.67,0.0094)(18.33,0.0062)(18.67,0.0030)(18.67,0.0016)(18.33,0.0035)(17.67,0.0048)(17.33,0.0055)(16.67,0.0052)(16.33,0.0025)(15.67,0.0062)(15.33,0.0083)(14.67,0.0062)(14.33,0.0077)(13.67,0.0027)(12.67,0.0034)(11.67,0.0032)(11.33,0.0022)(10.67,0.0032)(10.33,0.0030)};
  \addplot[pts] coordinates {(10.33,0)(10.67,0)(11.33,0)(11.67,0)(12.67,0)(13.67,0)(14.33,0)(14.67,0)(15.33,0)(15.67,0)(16.33,0)(16.67,0)(17.33,0)(17.67,0)(18.33,0)(18.67,0)(10.33,0.0086)(10.33,0.020)(10.67,0.0097)(10.67,0.020)(11.33,0.022)(11.67,0.0099)(11.67,0.0246)(12.67,0.0118)(12.67,0.0176)(13.67,0.0254)(14.33,0.0105)(14.33,0.0133)(14.33,0.026)(14.67,0.016)(14.67,0.025)(15.33,0.009)(15.33,0.027)(15.33,0.0307)(15.67,0.0115)(15.67,0.013)(15.67,0.0284)(16.33,0.0077)(16.33,0.009)(16.67,0.0168)(16.67,0.0198)(17.33,0.0043)(17.33,0.019)(17.33,0.0236)(17.67,0.0117)(17.67,0.015)(17.67,0.0156)(18.33,0.008)(18.33,0.0156)(18.67,0.0048)(18.67,0.0077)};
  \addplot[vdash] coordinates {(14.42,-0.0014) (14.42,0.0323)};
  \addplot[redl] table[x=t,y=k]{\mtab};
\end{axis}

\node[rotate=90, font=\arial\fontsize{16bp}{17bp}\selectfont, text=black!85] at (37bp,-1075bp) {Relative Abundance};
\node[font=\arial\fontsize{11.5bp}{12bp}\selectfont, text=black!85] at (627bp,-1288bp) {Time (days)};
\end{tikzpicture}
\end{document}
